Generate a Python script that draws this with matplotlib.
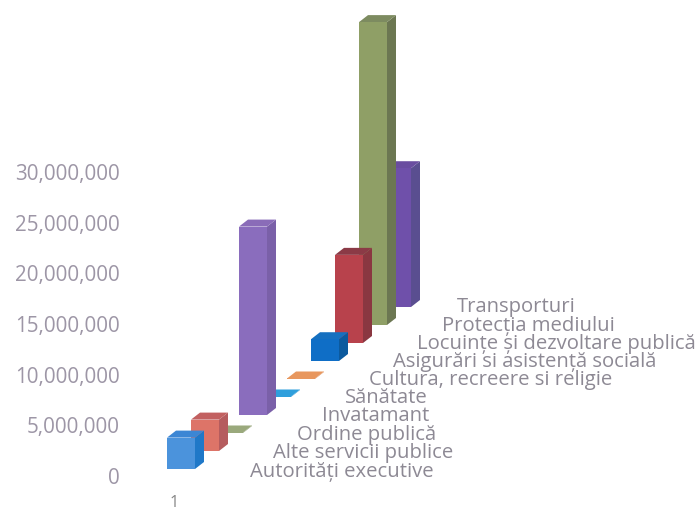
import matplotlib
matplotlib.use("Agg")
import matplotlib.pyplot as plt
from matplotlib.patches import Polygon

categories = ["Autorități executive", "Alte servicii publice", "Ordine publică", "Invatamant",
              "Sănătate", "Cultura, recreere si religie", "Asigurări si asistență socială",
              "Locuințe și dezvoltare publică", "Protecția mediului", "Transporturi"]
values = [3100000, 3100000, 50000, 18600000, 50000, 50000, 2150000, 8700000, 29900000, 13700000]
front_colors = ["#4b93dc", "#dd7468", "#9aa97c", "#8a6dbd", "#2f9fdc", "#e8975e",
                "#0f6ec6", "#b8424c", "#8f9f66", "#6f50aa"]
side_colors = ["#1f78c8", "#b55c5e", "#8a9870", "#7a60a8", "#2a90cc", "#d88a55",
               "#0c5a9e", "#8a3741", "#6c7752", "#5a4e90"]
top_colors = ["#3c86d4", "#c26060", "#9aa97c", "#8a6cb8", "#2f9fdc", "#e8975e",
              "#1570c0", "#8b3a46", "#7d8b60", "#6a4da0"]
y_ticks = [0, 5000000, 10000000, 15000000, 20000000, 25000000, 30000000]
x_tick_label = "1"

W, H = 697, 510
PX_PER_UNIT = 10.13e-6   # pixels per value unit
ZERO_PX = 476            # pixel row of value 0
AX_LEFT, AX_BOTTOM = 125, 494
FRONT_W, DEPTH_X, DEPTH_Y = 28, 9, 7
STEP_X, STEP_Y = 24, 18
X0, FLOOR0 = 167, 470
label_x = [250, 273, 297, 322, 345, 369, 393, 417, 442, 457]
label_y = [472, 453, 435, 416, 398, 380, 362, 344, 326, 307]
TICK_COLOR = "#9d96a6"
LABEL_COLOR = "#8d8994"

plt.rcParams["font.family"] = ["Open Sans", "DejaVu Sans"]
fig = plt.figure(figsize=(W / 100, H / 100), dpi=100)
ax = fig.add_axes([AX_LEFT / W, (H - AX_BOTTOM) / H, (W - AX_LEFT) / W, AX_BOTTOM / H])
ax.set_xlim(AX_LEFT, W)
ax.set_ylim((ZERO_PX - AX_BOTTOM) / PX_PER_UNIT, ZERO_PX / PX_PER_UNIT)
for s in ax.spines.values():
    s.set_visible(False)


def dv(px):
    """Pixel height to value units."""
    return px / PX_PER_UNIT


for i in range(len(values) - 1, -1, -1):
    x = X0 + STEP_X * i
    base = dv(ZERO_PX - (FLOOR0 - STEP_Y * i))
    top = base + values[i]
    ax.add_patch(Polygon([(x + FRONT_W, base), (x + FRONT_W + DEPTH_X, base + dv(DEPTH_Y)),
                          (x + FRONT_W + DEPTH_X, top + dv(DEPTH_Y)), (x + FRONT_W, top)],
                         fc=side_colors[i], ec="none"))
    ax.add_patch(Polygon([(x, top), (x + FRONT_W, top),
                          (x + FRONT_W + DEPTH_X, top + dv(DEPTH_Y)), (x + DEPTH_X, top + dv(DEPTH_Y))],
                         fc=top_colors[i], ec="none"))
    ax.bar(x, values[i], width=FRONT_W, bottom=base, align="edge", color=front_colors[i], lw=0)

ax.set_yticks(y_ticks)
ax.set_yticklabels([f"{v:,}" for v in y_ticks], fontsize=14.9, color=TICK_COLOR)
ax.set_xticks([174])
ax.set_xticklabels([x_tick_label], fontsize=11.5, color="#858585")
ax.tick_params(axis="y", length=0, pad=4)
ax.tick_params(axis="x", length=0, pad=0.5)

for name, lx, ly in zip(categories, label_x, label_y):
    ax.text(lx, (ZERO_PX - ly) / PX_PER_UNIT, name, fontsize=14.6, color=LABEL_COLOR,
            ha="left", va="center", clip_on=False)

fig.savefig("out.png", dpi=100, facecolor="white")
